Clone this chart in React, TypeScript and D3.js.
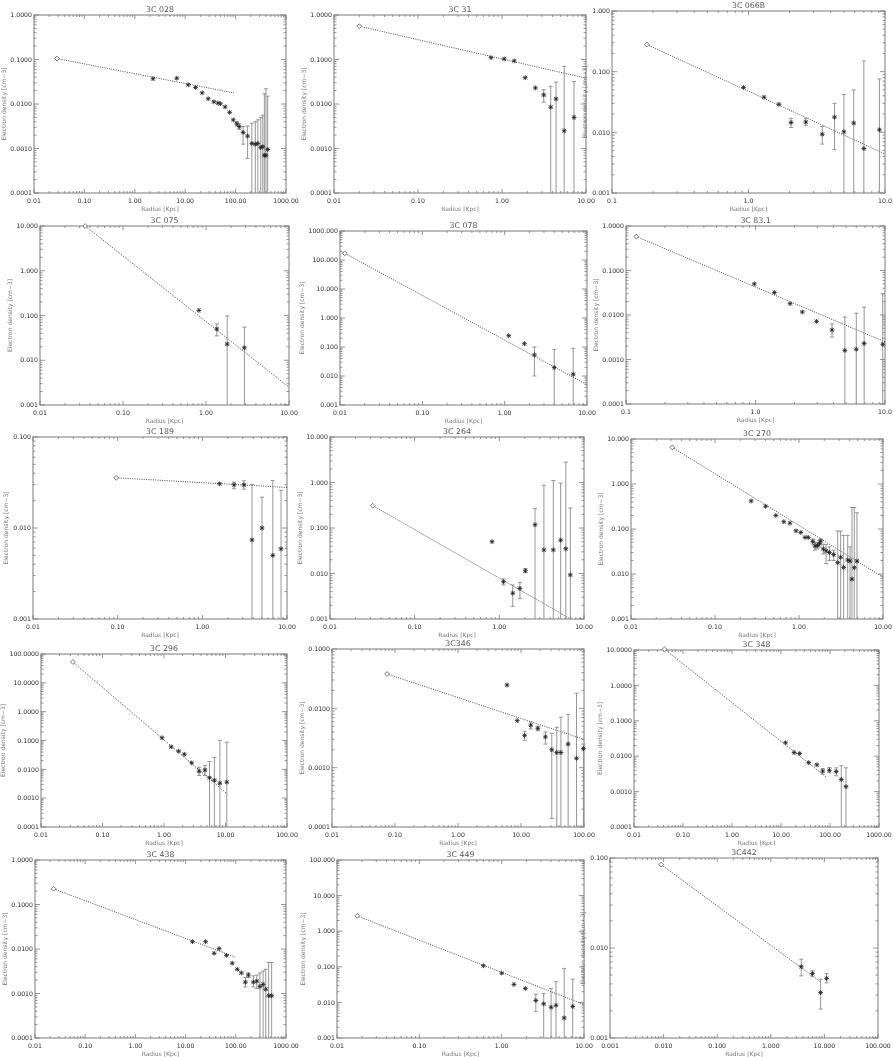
import React, { useEffect, useRef } from 'react';
import * as d3 from 'd3';

const W = 893;
const H = 1057;

// each point: [radius (kpc), electron density (cm-3), error low, error high]
// error low 0 = bar runs down to the axis, null = no visible bar
const pts028 = [
  [2.3, 0.037, null, null], [6.8, 0.038, null, null], [11.5, 0.027, null, null],
  [16, 0.0235, null, null], [21.7, 0.0178, null, null], [28.6, 0.0131, null, null],
  [37, 0.0112, null, null], [44.7, 0.0105, null, null], [50, 0.0101, null, null],
  [62, 0.0086, null, null], [76, 0.0065, null, null], [90, 0.0044, null, null],
  [106, 0.0036, 0.0032, 0.004], [118, 0.0031, 0.0027, 0.0036], [141, 0.0023, 0.00125, 0.0031],
  [173, 0.0019, 0.0006, 0.0032], [210, 0.0013, 0, 0.0037], [246, 0.00125, 0, 0.004],
  [276, 0.0013, 0, 0.0044], [316, 0.00105, 0, 0.005], [347, 0.0011, 0, 0.0056],
  [372, 0.0007, 0, 0.017], [400, 0.0007, 0, 0.022], [432, 0.00095, 0, 0.015]
];
const fit028 = [[0.0286, 0.105], [98, 0.0175]];

const pts31 = [
  [0.74, 0.11, null, null], [1.06, 0.103, null, null], [1.4, 0.093, null, null],
  [1.89, 0.039, null, null], [2.5, 0.023, null, null], [3.14, 0.016, 0.011, 0.021],
  [3.8, 0.0085, 0, 0.025], [4.4, 0.013, 0, 0.031], [5.5, 0.0025, 0, 0.07],
  [7.2, 0.005, 0, 0.032]
];
const fit31 = [[0.02, 0.56], [10, 0.038]];

const pts066 = [
  [0.92, 0.055, null, null], [1.3, 0.038, null, null], [1.67, 0.029, null, null],
  [2.05, 0.0145, 0.012, 0.017], [2.63, 0.0148, 0.013, 0.017], [3.47, 0.0093, 0.0064, 0.0125],
  [4.27, 0.0178, 0.0052, 0.03], [5.0, 0.0102, 0, 0.042], [5.9, 0.0142, 0, 0.05],
  [7.0, 0.0054, 0, 0.15], [9.1, 0.011, 0, 0.076]
];
const fit066 = [[0.18, 0.28], [10, 0.0044]];

const pts075 = [
  [0.82, 0.13, null, null], [1.35, 0.05, 0.035, 0.065], [1.8, 0.023, 0, 0.098],
  [2.9, 0.019, 0, 0.055]
];
const fit075 = [[0.035, 10], [10, 0.0025]];

const pts078 = [
  [1.12, 0.245, null, null], [1.74, 0.13, null, null], [2.3, 0.053, 0.01, 0.1],
  [4.0, 0.0195, 0, 0.083], [6.8, 0.0115, 0, 0.09]
];
const fit078 = [[0.0114, 170], [10, 0.005]];

const pts831 = [
  [0.98, 0.05, null, null], [1.4, 0.032, null, null], [1.85, 0.018, null, null],
  [2.3, 0.0117, null, null], [2.96, 0.0072, null, null], [3.9, 0.0046, 0.0032, 0.0063],
  [4.9, 0.0016, 0, 0.009], [6.0, 0.0017, 0, 0.011], [6.9, 0.0023, 0, 0.015],
  [9.6, 0.0022, 0, 0.03]
];
const fit831 = [[0.12, 0.58], [10, 0.0025]];

const pts189 = [
  [1.6, 0.0306, null, null], [2.37, 0.0298, 0.027, 0.032], [3.1, 0.0298, 0.0267, 0.033],
  [3.86, 0.0074, 0, 0.03], [5.07, 0.01, 0, 0.0218], [6.8, 0.005, 0, 0.0333],
  [8.5, 0.0059, 0, 0.026]
];
const fit189 = [[0.096, 0.0356], [10, 0.0279]];

const pts264 = [
  [0.82, 0.05, null, null], [1.12, 0.0066, 0.0056, 0.0076], [1.44, 0.0037, 0.0019, 0.0056],
  [1.75, 0.0047, 0.0028, 0.0064], [2.03, 0.0115, 0.0105, 0.0128], [2.64, 0.118, 0, 0.27],
  [3.36, 0.033, 0, 0.87], [4.34, 0.033, 0, 1.1], [5.3, 0.054, 0, 0.97],
  [6.1, 0.035, 0, 2.8], [6.9, 0.0093, 0, 0.276]
];
const fit264 = [[0.032, 0.31], [10, 0.00068]];

const pts270 = [
  [0.27, 0.42, null, null], [0.4, 0.32, null, null], [0.53, 0.2, null, null],
  [0.66, 0.145, null, null], [0.78, 0.135, null, null], [0.92, 0.091, null, null],
  [1.05, 0.084, null, null], [1.18, 0.065, null, null], [1.29, 0.065, null, null],
  [1.46, 0.053, 0.046, 0.06], [1.55, 0.042, 0.034, 0.05], [1.65, 0.043, 0.036, 0.05],
  [1.75, 0.047, 0.04, 0.056], [1.81, 0.054, 0.046, 0.06], [1.95, 0.036, 0.028, 0.046],
  [2.1, 0.0326, 0.017, 0.045], [2.3, 0.03, 0.02, 0.04], [2.59, 0.027, 0.02, 0.034],
  [2.89, 0.0179, 0, 0.09], [3.13, 0.0236, 0, 0.09], [3.4, 0.014, 0, 0.072],
  [3.8, 0.0205, 0, 0.072], [4.05, 0.0194, 0, 0.04], [4.27, 0.0077, 0, 0.3],
  [4.55, 0.0138, 0, 0.3], [4.9, 0.0194, 0, 0.23]
];
const fit270 = [[0.031, 6.5], [10, 0.0085]];

const pts296 = [
  [0.93, 0.124, null, null], [1.31, 0.06, null, null], [1.73, 0.0426, null, null],
  [2.14, 0.0334, null, null], [2.82, 0.0168, null, null], [3.72, 0.0086, 0.0061, 0.0118],
  [4.64, 0.0095, 0.0061, 0.0135], [5.5, 0.0051, 0, 0.0186], [6.6, 0.0042, 0, 0.0257],
  [8.1, 0.0033, 0, 0.102], [10.5, 0.0036, 0, 0.087]
];
const fit296 = [[0.033, 52.7], [10.5, 0.00144]];

const pts346 = [
  [6.0, 0.0247, null, null], [8.7, 0.0062, null, null], [11.4, 0.0035, 0.0029, 0.0041],
  [14.3, 0.0052, 0.0045, 0.0059], [18.5, 0.0046, 0.0042, 0.005], [24.4, 0.0033, 0.0025, 0.004],
  [30.8, 0.002, 0.00014, 0.0038], [37, 0.0018, 0, 0.0048], [43, 0.0018, 0, 0.0071],
  [56, 0.0025, 0, 0.0079], [76, 0.00144, 0, 0.018], [98, 0.0021, 0, 0.0025]
];
const fit346 = [[0.075, 0.0379], [100, 0.003]];

const pts348 = [
  [12.4, 0.024, null, null], [18.5, 0.0127, null, null], [24, 0.0119, null, null],
  [36.7, 0.0066, null, null], [54, 0.0057, null, null], [71, 0.0038, 0.0031, 0.0045],
  [97, 0.004, 0.0034, 0.0048], [134, 0.0037, 0.0028, 0.0047], [170, 0.0022, 0, 0.0054],
  [212, 0.00138, 0, 0.0047]
];
const fit348 = [[0.042, 10.5], [83, 0.0026]];

const pts438 = [
  [13.7, 0.0146, null, null], [25, 0.0146, null, null], [37, 0.008, null, null],
  [46.5, 0.0102, null, null], [65, 0.0072, null, null], [85, 0.0048, null, null],
  [107, 0.0035, null, null], [129, 0.0029, null, null], [155, 0.0018, 0.0014, 0.0023],
  [178, 0.0026, 0.0023, 0.0029], [224, 0.0018, 0.0014, 0.0025], [262, 0.0019, 0.0013, 0.0026],
  [303, 0.00144, 0, 0.0029], [350, 0.0016, 0, 0.0032], [395, 0.00125, 0, 0.0035],
  [452, 0.00089, 0, 0.005], [518, 0.00089, 0, 0.005]
];
const fit438 = [[0.0235, 0.225], [97, 0.0066]];

const pts449 = [
  [0.6, 0.107, null, null], [1.0, 0.0666, null, null], [1.41, 0.0319, null, null],
  [1.94, 0.0246, null, null], [2.6, 0.0113, 0.0055, 0.017], [3.24, 0.0091, 0, 0.0178],
  [3.98, 0.0073, 0, 0.0246], [4.57, 0.0083, 0, 0.038], [5.75, 0.00366, 0, 0.09],
  [7.3, 0.0077, 0, 0.045]
];
const fit449 = [[0.0176, 2.69], [10, 0.0087]];

const pts442 = [
  [3.7, 0.0062, 0.0049, 0.0075], [6.0, 0.0052, 0.0048, 0.0056],
  [8.5, 0.0032, 0.0021, 0.0045], [11, 0.0046, 0.0041, 0.0052]
];
const fit442 = [[0.009, 0.0843], [8.5, 0.0042]];

// panel layout: title, data, axis ranges, label decimals, plot box [left, right, top, bottom]
const panels = [
  { title: '3C 028', pts: pts028, fit: fit028, xd: [0.01, 1000], yd: [0.0001, 1], xf: 2, yf: 4, box: [34, 286, 15, 193] },
  { title: '3C 31', pts: pts31, fit: fit31, xd: [0.01, 10], yd: [0.0001, 1], xf: 2, yf: 4, box: [334, 586, 15, 193] },
  { title: '3C 066B', pts: pts066, fit: fit066, xd: [0.1, 10], yd: [0.001, 1], xf: 1, yf: 3, box: [612, 885, 11, 193] },
  { title: '3C 075', pts: pts075, fit: fit075, xd: [0.01, 10], yd: [0.001, 10], xf: 2, yf: 3, box: [40, 289, 226, 405] },
  { title: '3C 078', pts: pts078, fit: fit078, xd: [0.01, 10], yd: [0.001, 1000], xf: 2, yf: 3, box: [340, 587, 231, 405] },
  { title: '3C 83.1', pts: pts831, fit: fit831, xd: [0.1, 10], yd: [0.0001, 1], xf: 1, yf: 4, box: [626, 885, 226, 404] },
  { title: '3C 189', pts: pts189, fit: fit189, xd: [0.01, 10], yd: [0.001, 0.1], xf: 2, yf: 3, box: [33, 287, 437, 619] },
  { title: '3C 264', pts: pts264, fit: fit264, xd: [0.01, 10], yd: [0.001, 10], xf: 2, yf: 3, box: [330, 584, 437, 619] },
  { title: '3C 270', pts: pts270, fit: fit270, xd: [0.01, 10], yd: [0.001, 10], xf: 2, yf: 3, box: [631, 883, 439, 619] },
  { title: '3C 296', pts: pts296, fit: fit296, xd: [0.01, 100], yd: [0.0001, 100], xf: 2, yf: 4, box: [41, 287, 654, 827] },
  { title: '3C346', pts: pts346, fit: fit346, xd: [0.01, 100], yd: [0.0001, 0.1], xf: 2, yf: 4, box: [332, 584, 649, 827] },
  { title: '3C 348', pts: pts348, fit: fit348, xd: [0.01, 1000], yd: [0.0001, 10], xf: 2, yf: 4, box: [634, 879, 650, 827] },
  { title: '3C 438', pts: pts438, fit: fit438, xd: [0.01, 1000], yd: [0.0001, 1], xf: 2, yf: 4, box: [35, 286, 860, 1038] },
  { title: '3C 449', pts: pts449, fit: fit449, xd: [0.01, 10], yd: [0.001, 100], xf: 2, yf: 3, box: [337, 584, 860, 1038] },
  { title: '3C442', pts: pts442, fit: fit442, xd: [0.001, 100], yd: [0.001, 0.1], xf: 3, yf: 3, box: [610, 878, 858, 1038] }
];

const FONT = 'DejaVu Sans, Verdana, sans-serif';
const AXIS = '#7a7a7a';

const isDecade = v => Math.abs(Math.log10(v) - Math.round(Math.log10(v))) < 1e-6;

const App = () => {
  const svgRef = useRef(null);

  useEffect(() => {
    const svg = d3.select(svgRef.current);
    svg.selectAll('*').remove();
    svg.append('rect').attr('width', W).attr('height', H).attr('fill', 'white');

    panels.forEach((p, i) => {
      const [l, r, t, b] = p.box;
      const x = d3.scaleLog().domain(p.xd).range([l, r]);
      const y = d3.scaleLog().domain(p.yd).range([b, t]);
      const yc = v => (v <= 0 ? b : Math.max(t, Math.min(b, y(v))));
      const g = svg.append('g');

      g.append('clipPath').attr('id', `clip${i}`)
        .append('rect').attr('x', l).attr('y', t).attr('width', r - l).attr('height', b - t);

      // frame
      g.append('rect')
        .attr('x', l).attr('y', t).attr('width', r - l).attr('height', b - t)
        .attr('fill', 'none').attr('stroke', AXIS).attr('stroke-width', 1);

      // ticks on all four sides, pointing inward
      const xt = x.ticks();
      const yt = y.ticks();
      const tk = g.append('g').attr('stroke', AXIS).attr('stroke-width', 0.8);
      xt.forEach(v => {
        const len = isDecade(v) ? 4 : 2;
        const px = x(v);
        tk.append('line').attr('x1', px).attr('x2', px).attr('y1', b).attr('y2', b - len);
        tk.append('line').attr('x1', px).attr('x2', px).attr('y1', t).attr('y2', t + len);
      });
      yt.forEach(v => {
        const len = isDecade(v) ? 5 : 2.5;
        const py = y(v);
        tk.append('line').attr('x1', l).attr('x2', l + len).attr('y1', py).attr('y2', py);
        tk.append('line').attr('x1', r).attr('x2', r - len).attr('y1', py).attr('y2', py);
      });

      const fx = d3.format(`.${p.xf}f`);
      const fy = d3.format(`.${p.yf}f`);

      g.append('g')
        .style('font', `6.2px ${FONT}`)
        .attr('fill', '#2a2a2a')
        .attr('text-anchor', 'middle')
        .selectAll('text')
        .data(xt.filter(isDecade))
        .join('text')
        .attr('x', d => x(d))
        .attr('y', b + 10)
        .text(d => fx(d));

      const ydec = yt.filter(isDecade);
      g.append('g')
        .style('font', `6.2px ${FONT}`)
        .attr('fill', '#2a2a2a')
        .attr('text-anchor', 'end')
        .selectAll('text')
        .data(ydec)
        .join('text')
        .attr('x', l - 2)
        .attr('y', d => y(d))
        .attr('dy', '0.35em')
        .text(d => fy(d));

      // titles
      g.append('text')
        .attr('x', (l + r) / 2).attr('y', t - 3.5)
        .attr('text-anchor', 'middle')
        .style('font', `7.8px ${FONT}`)
        .attr('fill', '#555')
        .text(p.title);

      g.append('text')
        .attr('x', (l + r) / 2).attr('y', b + 18)
        .attr('text-anchor', 'middle')
        .style('font', `6px ${FONT}`)
        .attr('fill', '#777')
        .text('Radius [Kpc]');

      const maxChars = d3.max(ydec, d => fy(d).length);
      const yx = l - 2 - maxChars * 3.75 - 4;
      g.append('text')
        .attr('transform', `translate(${yx},${(t + b) / 2}) rotate(-90)`)
        .attr('text-anchor', 'middle')
        .style('font', `6px ${FONT}`)
        .attr('fill', '#777')
        .text('Electron density [cm\u22123]');

      // model line (dotted) starting at the diamond
      const line = d3.line().x(d => x(d[0])).y(d => y(d[1]));
      g.append('path')
        .attr('clip-path', `url(#clip${i})`)
        .attr('d', line(p.fit))
        .attr('fill', 'none')
        .attr('stroke', '#333')
        .attr('stroke-width', 0.9)
        .attr('stroke-dasharray', '1 1.3');

      const [dx0, dy0] = p.fit[0];
      const cx = x(dx0);
      const cy = y(dy0);
      const s = 2.4;
      g.append('path')
        .attr('d', `M${cx},${cy - s}L${cx + s},${cy}L${cx},${cy + s}L${cx - s},${cy}Z`)
        .attr('fill', 'white')
        .attr('stroke', '#555')
        .attr('stroke-width', 0.8);

      // error bars
      const eb = g.append('g').attr('stroke', '#8a8a8a').attr('stroke-width', 0.9);
      p.pts.filter(d => d[2] !== null).forEach(d => {
        const px = x(d[0]);
        const y1 = yc(d[2]);
        const y2 = yc(d[3]);
        eb.append('line').attr('x1', px).attr('x2', px).attr('y1', y1).attr('y2', y2);
        eb.append('line').attr('x1', px - 2).attr('x2', px + 2).attr('y1', y2).attr('y2', y2);
        if (d[2] > 0) eb.append('line').attr('x1', px - 2).attr('x2', px + 2).attr('y1', y1).attr('y2', y1);
      });

      // asterisks
      const ast = g.append('g').attr('stroke', '#222').attr('stroke-width', 0.85);
      const a = 2.4;
      const q = a * 0.75;
      p.pts.forEach(d => {
        const px = x(d[0]);
        const py = y(d[1]);
        ast.append('path')
          .attr('d', `M${px - a},${py}H${px + a}M${px},${py - a}V${py + a}` +
            `M${px - q},${py - q}L${px + q},${py + q}M${px - q},${py + q}L${px + q},${py - q}`)
          .attr('fill', 'none');
      });
    });
  }, []);

  return (
    <div style={{ position: 'absolute', left: 0, top: 0 }}>
      <svg ref={svgRef} width={W} height={H} style={{ display: 'block', filter: 'grayscale(1)' }} />
    </div>
  );
};

export default App;
